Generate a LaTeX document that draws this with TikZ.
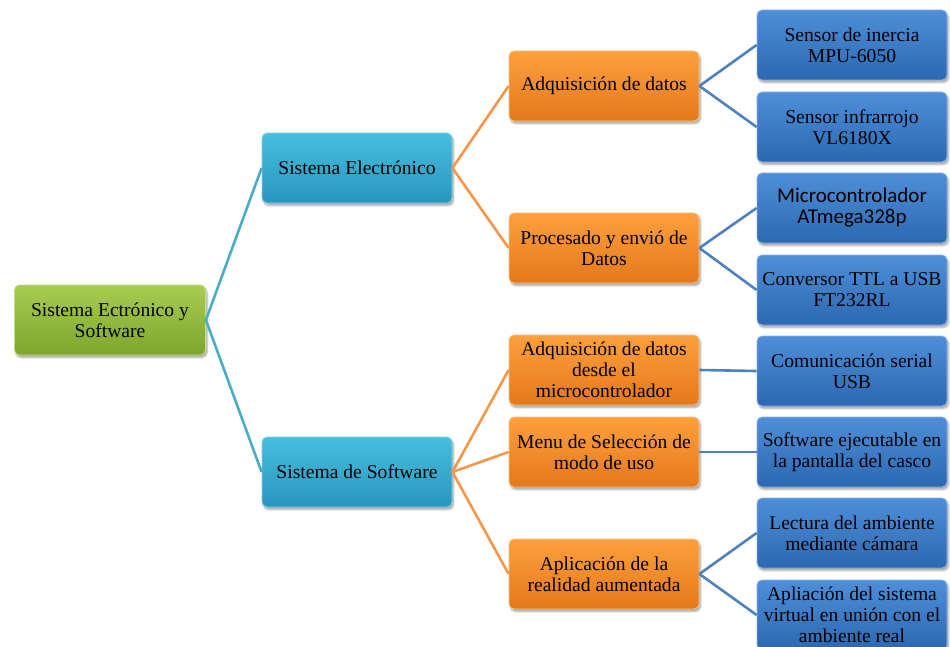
\documentclass[tikz,border=0pt]{standalone}
\usepackage{fontspec}
\setmainfont{Liberation Serif}
\newfontfamily\calibri{Carlito}
\usetikzlibrary{shadows.blur}

\definecolor{lineCyan}{HTML}{4BACC6}
\definecolor{lineOrange}{HTML}{F79646}
\definecolor{lineBlue}{HTML}{4F81BD}

\tikzset{
  box/.style={rounded corners=5pt, minimum width=190pt, minimum height=70pt,
    inner sep=1pt, align=center, font=\fontsize{19.6}{21}\selectfont,
    text=black, line width=0.8pt,
    blur shadow={shadow xshift=1.5pt, shadow yshift=-2.5pt, shadow blur steps=6, shadow opacity=35}},
  rootbox/.style={box, top color={rgb,255:red,168;green,204;blue,80}, bottom color={rgb,255:red,125;green,166;blue,45}, draw={rgb,255:red,190;green,220;blue,130}},
  cyanbox/.style={box, top color={rgb,255:red,70;green,190;blue,222}, bottom color={rgb,255:red,40;green,150;blue,190}, draw={rgb,255:red,130;green,210;blue,232}},
  orangebox/.style={box, top color={rgb,255:red,252;green,160;blue,60}, bottom color={rgb,255:red,228;green,120;blue,28}, draw={rgb,255:red,252;green,195;blue,130}},
  bluebox/.style={box, top color={rgb,255:red,78;green,142;blue,216}, bottom color={rgb,255:red,44;green,104;blue,178}, draw={rgb,255:red,140;green,180;blue,228}},
  cyanlink/.style={draw=lineCyan, line width=2.6pt},
  orangelink/.style={draw=lineOrange, line width=2.6pt},
  bluelink/.style={draw=lineBlue, line width=2.6pt},
}

\begin{document}
\begin{tikzpicture}[x=1pt, y=-1pt]
\useasboundingbox (0,0) rectangle (950,647);

% root
\node[rootbox, minimum width=191pt] (root) at (110,320) {Sistema Ectrónico y\\Software};

% first level
\node[cyanbox] (elec) at (357,168) {Sistema Electrónico};
\node[cyanbox] (soft) at (357,472) {Sistema de Software};

% second level
\node[orangebox] (adq)  at (604,86)  {Adquisición de datos};
\node[orangebox] (proc) at (604,248) {Procesado y envió de\\Datos};
\node[orangebox] (adqm) at (604,370) {Adquisición de datos\\desde el\\microcontrolador};
\node[orangebox] (menu) at (604,452) {Menu de Selección de\\modo de uso};
\node[orangebox] (apl)  at (604,574) {Aplicación de la\\realidad aumentada};

% third level
\node[bluebox] (mpu)  at (852,45)  {Sensor de inercia\\MPU-6050};
\node[bluebox] (vl)   at (852,127) {Sensor infrarrojo\\VL6180X};
\node[bluebox, font=\calibri\fontsize{21}{21}\selectfont] (atm) at (852,208) {Microcontrolador\\ATmega328p};
\node[bluebox] (ftdi) at (852,290) {Conversor TTL a USB\\FT232RL};
\node[bluebox] (usb)  at (852,371) {Comunicación serial\\USB};
\node[bluebox] (exe)  at (852,452) {Software ejecutable en\\la pantalla del casco};
\node[bluebox] (cam)  at (852,533) {Lectura del ambiente\\mediante cámara};
\node[bluebox] (virt) at (852,615) {Apliación del sistema\\virtual en unión con el\\ambiente real};

% connectors
\path[cyanlink] (root.east) -- (elec.west);
\path[cyanlink] (root.east) -- (soft.west);
\path[orangelink] (elec.east) -- (adq.west);
\path[orangelink] (elec.east) -- (proc.west);
\path[orangelink] (soft.east) -- (adqm.west);
\path[orangelink] (soft.east) -- (menu.west);
\path[orangelink] (soft.east) -- (apl.west);
\path[bluelink] (adq.east) -- (mpu.west);
\path[bluelink] (adq.east) -- (vl.west);
\path[bluelink] (proc.east) -- (atm.west);
\path[bluelink] (proc.east) -- (ftdi.west);
\path[bluelink] (adqm.east) -- (usb.west);
\path[bluelink] (menu.east) -- (exe.west);
\path[bluelink] (apl.east) -- (cam.west);
\path[bluelink] (apl.east) -- (virt.west);
\end{tikzpicture}
\end{document}
